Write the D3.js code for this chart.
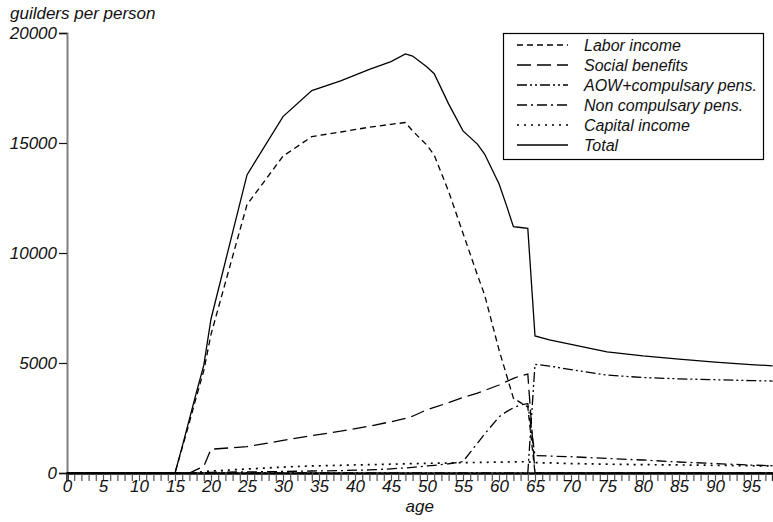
<!DOCTYPE html>
<html>
<head>
<meta charset="utf-8">
<script src="https://cdn.jsdelivr.net/npm/d3@7"></script>
<style>
  body { margin: 0; background: #fff; }
  svg text { font-family: "Liberation Sans", Arial, sans-serif; font-style: italic; font-size: 17px; fill: #111; }
  svg .row text { font-size: 16px; }
</style>
</head>
<body>
<div id="chart"></div>
<script>
const ages = [0, 15, 16, 17, 18, 19, 20, 25, 30, 34, 38, 42, 45, 47, 48, 50, 51, 53, 55, 57, 58, 60, 61, 62, 63, 64, 65, 67, 70, 75, 80, 85, 90, 95, 98];

const labor      = [0, 0, 1150, 2300, 3500, 4650, 6300, 12200, 14400, 15290, 15500, 15720, 15850, 15930, 15550, 14900, 14450, 12800, 10900, 9000, 8100, 5600, 4500, 3400, 3200, 3000, 0, 0, 0, 0, 0, 0, 0, 0, 0];
const social     = [0, 0, 0, 0, 150, 300, 1080, 1200, 1480, 1700, 1900, 2130, 2330, 2480, 2580, 2880, 2980, 3200, 3430, 3630, 3750, 4000, 4150, 4300, 4420, 4500, 0, 0, 0, 0, 0, 0, 0, 0, 0];
const aow        = [0, 0, 0, 0, 0, 0, 0, 0, 0, 0, 0, 0, 0, 0, 0, 0, 0, 0, 0, 0, 0, 0, 0, 0, 0, 0, 4940, 4860, 4700, 4450, 4340, 4280, 4240, 4200, 4180];
const noncomp    = [0, 0, 0, 0, 10, 20, 30, 50, 70, 90, 110, 140, 190, 230, 260, 320, 350, 420, 520, 1350, 1770, 2550, 2780, 2960, 3100, 3150, 790, 770, 740, 660, 590, 500, 430, 360, 330];
const capital    = [0, 0, 0, 0, 30, 60, 90, 180, 270, 320, 350, 380, 400, 420, 425, 440, 445, 455, 470, 480, 485, 495, 500, 505, 510, 515, 470, 460, 430, 400, 380, 365, 350, 330, 320];
const total      = [0, 0, 1200, 2450, 3700, 4900, 7000, 13550, 16200, 17380, 17820, 18350, 18700, 19050, 18950, 18450, 18150, 16780, 15550, 14950, 14500, 13150, 12200, 11200, 11160, 11120, 6230, 6050, 5850, 5510, 5320, 5180, 5040, 4930, 4870];

const seriesNames = ["Labor income", "Social benefits", "AOW+compulsary pens.", "Non compulsary pens.", "Capital income", "Total"];
const seriesValues = [labor, social, aow, noncomp, capital, total];
const dashes = ["6,4", "14,6", "10,3,2,3,2,3", "10,4,2,4", "2,5", null];

const yTicks = [0, 5000, 10000, 15000, 20000];

const width = 773, height = 522;
const margin = ({top: 33, right: 0.4, bottom: 49, left: 67});

const svg = d3.select("#chart").append("svg")
  .attr("width", width)
  .attr("height", height);

const x = d3.scaleLinear()
  .domain([0, 98])
  .range([margin.left, width - margin.right]);

const y = d3.scaleLinear()
  .domain([0, 20000])
  .range([height - margin.bottom, margin.top]);

// y axis : grey spine, black ticks
const yAxis = svg.append("g")
  .attr("transform", `translate(${margin.left},0)`)
  .call(d3.axisLeft(y).tickValues(yTicks).tickSize(8).tickPadding(2).tickFormat(d3.format("d")));
yAxis.select(".domain").attr("stroke", "#808080").attr("stroke-width", 2);
yAxis.selectAll(".tick line").attr("stroke", "#111").attr("stroke-width", 1.2);
yAxis.selectAll("text").attr("font-size", null).attr("font-family", null);

// x axis : tick every year, label every 5
const xAxis = svg.append("g")
  .attr("transform", `translate(0,${height - margin.bottom})`)
  .call(d3.axisBottom(x).tickValues(d3.range(0, 99)).tickSize(8).tickPadding(0)
    .tickFormat(d => d % 5 == 0 ? d : ""));
xAxis.select(".domain").attr("stroke", "#000").attr("stroke-width", 2.5);
xAxis.selectAll(".tick line").attr("stroke", "#555").attr("stroke-width", 1.2);
xAxis.selectAll("text").attr("font-size", null).attr("font-family", null)
  .attr("y", 19).attr("dy", null);

svg.append("text").attr("x", 10).attr("y", 19).text("guilders per person");
svg.append("text").attr("x", x(49)).attr("y", 512).attr("text-anchor", "middle").text("age");

// the curves
const line = d3.line()
  .x((d, i) => x(ages[i]))
  .y(d => y(d));

svg.append("g").selectAll("path")
  .data(seriesValues)
  .join("path")
  .attr("d", d => line(d))
  .attr("fill", "none")
  .attr("stroke", "#000")
  .attr("stroke-width", (d, i) => i == 4 ? 1.7 : 1.3)
  .attr("stroke-dasharray", (d, i) => dashes[i]);

// legend
const legend = svg.append("g");
legend.append("rect")
  .attr("x", 503.5).attr("y", 33.5)
  .attr("width", 260).attr("height", 126)
  .attr("fill", "#fff").attr("stroke", "#000").attr("stroke-width", 1.2);

const rows = legend.selectAll("g.row")
  .data(seriesNames)
  .join("g")
  .attr("class", "row")
  .attr("transform", (d, i) => `translate(0,${45 + i * 20})`);

rows.append("line")
  .attr("x1", 517).attr("x2", 568)
  .attr("stroke", "#000").attr("stroke-width", 1.5)
  .attr("stroke-dasharray", (d, i) => dashes[i]);

rows.append("text")
  .attr("x", 584).attr("dy", "0.35em")
  .text(d => d);
</script>
</body>
</html>
